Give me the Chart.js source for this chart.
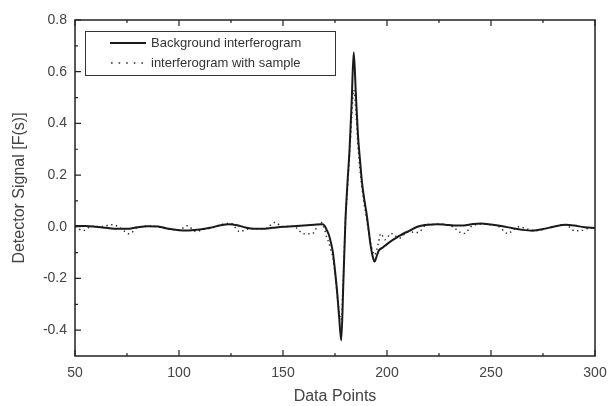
<!DOCTYPE html>
<html>
<head>
<meta charset="utf-8">
<script src="https://cdn.jsdelivr.net/npm/chart.js@4/dist/chart.umd.min.js"></script>
<style>
html, body { margin: 0; padding: 0; background: #fff; }
#wrap { position: relative; width: 608px; height: 406px; }
</style>
</head>
<body>
<div id="wrap"><canvas id="chart"></canvas></div>
<script>
// Background interferogram (solid)
const bgX = [50,55,60,65,70,75,80,85,90,95,100,105,110,115,120,124,128,132,136,140,145,150,155,160,165,169,170,
    171,172,173,174,175,176,177,178,179,180,181,182,183,184,185,186,187,188,189,190,191,192,193,194,195,196,
    198,200,203,205,208,211,214,217,220,224,228,232,236,240,245,250,255,260,265,270,275,280,286,290,295,300];
const bgY = [0.003,0.003,0.0,-0.004,-0.008,-0.008,-0.002,0.002,0.001,-0.008,-0.013,-0.014,-0.011,-0.004,
    0.006,0.010,0.006,-0.003,-0.008,-0.008,-0.004,0.0,0.002,0.005,0.008,0.010,0.004,
    -0.012,-0.03,-0.06,-0.10,-0.17,-0.25,-0.35,-0.44,-0.22,0.02,0.17,0.30,0.48,0.675,0.52,0.36,0.26,0.17,0.11,0.06,0.0,-0.065,-0.11,-0.135,-0.115,-0.093,
    -0.08,-0.067,-0.05,-0.04,-0.026,-0.015,-0.002,0.005,0.008,0.010,0.008,0.005,0.005,0.009,0.013,0.009,0.003,-0.005,-0.012,-0.015,-0.009,0.0,0.008,0.005,-0.002,-0.005];

// Interferogram with sample (dotted)
const smX = [50,54,58,62,68,72,76,80,85,90,95,100,104,108,112,116,121,125,129,134,138,142,146,150,155,160,164,168,170,
    171,172,173,174,175,176,177,178,179,180,181,182,183,184,185,186,187,188,189,190,191,192,193,194,195,196,197,
    199,202,206,210,215,219,224,230,237,241,246,250,254,258,263,268,272,277,282,286,290,293,297,300];
const smY = [0.0,-0.015,0.002,0.0,0.008,-0.006,-0.027,-0.003,0.003,0.0,-0.01,-0.012,0.004,-0.018,-0.01,-0.004,0.01,0.013,-0.018,-0.008,
    -0.008,-0.006,0.017,0.0,0.002,-0.027,-0.027,0.018,-0.01,
    -0.041,-0.06,-0.09,-0.12,-0.18,-0.26,-0.33,-0.36,-0.2,0.02,0.15,0.28,0.42,0.53,0.45,0.32,0.22,0.15,0.09,0.04,-0.01,-0.06,-0.09,-0.11,-0.09,-0.058,-0.026,
    -0.05,-0.026,-0.044,-0.02,-0.022,0.008,0.01,0.006,-0.026,0.004,0.01,0.008,0.0,-0.026,0.0,-0.01,-0.015,-0.006,0.004,0.008,-0.015,-0.015,-0.006,-0.005];

const xTicks = [50, 100, 150, 200, 250, 300];
const yTicks = [-0.4, -0.2, 0, 0.2, 0.4, 0.6, 0.8];
const seriesLabels = ['Background interferogram', 'interferogram with sample'];

const toPoints = (xs, ys) => xs.map((x, i) => ({ x: x, y: ys[i] }));
const midpoints = arr => arr.slice(1).map((v, i) => (v + arr[i]) / 2);

Chart.defaults.font.family = 'Arial, "Liberation Sans", sans-serif';

// frame, inward ticks and boxed legend
const framePlugin = {
    id: 'frame',
    afterDraw(chart) {
        const { ctx, chartArea: a, scales: { x, y } } = chart;
        ctx.save();
        ctx.strokeStyle = '#222';
        ctx.lineWidth = 1.5;
        ctx.strokeRect(a.left, a.top, a.right - a.left, a.bottom - a.top);

        ctx.lineWidth = 1.2;
        ctx.beginPath();
        const xMinor = midpoints(xTicks);
        xTicks.forEach(v => {
            const px = x.getPixelForValue(v);
            ctx.moveTo(px, a.bottom); ctx.lineTo(px, a.bottom - 6);
            ctx.moveTo(px, a.top); ctx.lineTo(px, a.top + 6);
        });
        xMinor.forEach(v => {
            const px = x.getPixelForValue(v);
            ctx.moveTo(px, a.bottom); ctx.lineTo(px, a.bottom - 3);
            ctx.moveTo(px, a.top); ctx.lineTo(px, a.top + 3);
        });
        yTicks.forEach(v => {
            const py = y.getPixelForValue(v);
            ctx.moveTo(a.left, py); ctx.lineTo(a.left + 6, py);
        });
        midpoints(yTicks).concat([0.7]).forEach(v => {
            const py = y.getPixelForValue(v);
            ctx.moveTo(a.left, py); ctx.lineTo(a.left + 3, py);
        });
        ctx.stroke();

        // legend box
        const lx = 85, ly = 31, lw = 250, lh = 44;
        ctx.fillStyle = '#fff';
        ctx.fillRect(lx, ly, lw, lh);
        ctx.lineWidth = 1;
        ctx.strokeStyle = '#333';
        ctx.strokeRect(lx + 0.5, ly + 0.5, lw, lh);

        ctx.lineWidth = 2;
        ctx.strokeStyle = '#1a1a1a';
        ctx.beginPath();
        ctx.moveTo(110, 43); ctx.lineTo(146, 43);
        ctx.stroke();

        ctx.lineWidth = 1.6;
        ctx.strokeStyle = '#333';
        ctx.setLineDash([1.6, 6]);
        ctx.beginPath();
        ctx.moveTo(111, 63); ctx.lineTo(146, 63);
        ctx.stroke();
        ctx.setLineDash([]);

        ctx.fillStyle = '#333';
        ctx.font = '13px Arial, "Liberation Sans", sans-serif';
        ctx.textBaseline = 'middle';
        ctx.fillText(seriesLabels[0], 151, 43);
        ctx.fillText(seriesLabels[1], 151, 63);
        ctx.restore();
    }
};

new Chart(document.getElementById('chart'), {
    type: 'line',
    data: {
        datasets: [{
            label: seriesLabels[0],
            data: toPoints(bgX, bgY),
            borderColor: '#1a1a1a',
            borderWidth: 2,
            pointRadius: 0,
            cubicInterpolationMode: 'monotone',
            fill: false
        }, {
            label: seriesLabels[1],
            data: toPoints(smX, smY),
            borderColor: '#333',
            borderWidth: 1.5,
            borderDash: [1.4, 3.4],
            pointRadius: 0,
            cubicInterpolationMode: 'monotone',
            fill: false
        }]
    },
    options: {
        responsive: true,
        maintainAspectRatio: false,
        animation: false,
        layout: { padding: { left: 10, right: 13, top: 20, bottom: 0 } },
        plugins: {
            legend: { display: false },
            tooltip: { enabled: false }
        },
        scales: {
            x: {
                type: 'linear',
                min: 50,
                max: 300,
                afterBuildTicks: s => { s.ticks = xTicks.map(v => ({ value: v })); },
                afterFit: s => { s.height = 50; s.paddingLeft = 0; s.paddingRight = 0; },
                grid: { display: false, drawTicks: false },
                border: { display: false },
                ticks: {
                    padding: 9,
                    color: '#444',
                    font: { size: 14 },
                    maxRotation: 0,
                    callback: v => String(v)
                },
                title: {
                    display: true,
                    text: 'Data Points',
                    color: '#444',
                    font: { size: 16 },
                    padding: 0
                }
            },
            y: {
                min: -0.5,
                max: 0.8,
                afterBuildTicks: s => { s.ticks = yTicks.map(v => ({ value: v })); },
                afterFit: s => { s.width = 65; s.paddingTop = 0; s.paddingBottom = 0; },
                grid: { display: false, drawTicks: false },
                border: { display: false },
                ticks: {
                    padding: 8,
                    color: '#444',
                    font: { size: 14 },
                    callback: v => v.toFixed(1)
                },
                title: {
                    display: true,
                    text: 'Detector Signal [F(s)]',
                    color: '#444',
                    font: { size: 16 },
                    padding: 0
                }
            }
        }
    },
    plugins: [framePlugin]
});
</script>
</body>
</html>
